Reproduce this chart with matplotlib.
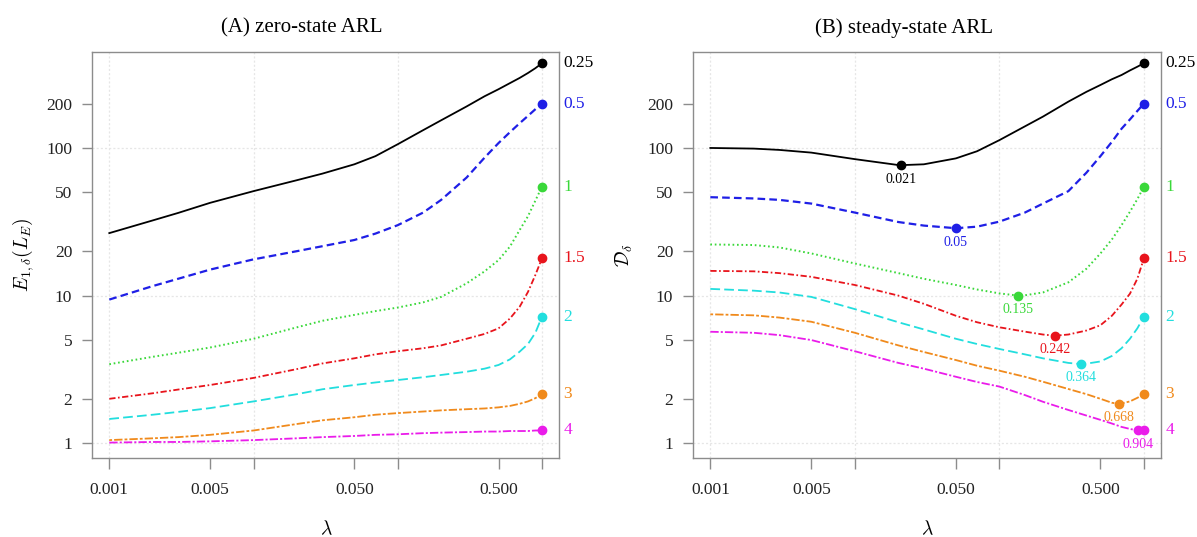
import numpy as np
import matplotlib
matplotlib.use("Agg")
import matplotlib.pyplot as plt

plt.rcParams['font.family'] = ['Liberation Serif', 'DejaVu Serif']
plt.rcParams['mathtext.fontset'] = 'cm'
plt.rcParams['lines.scale_dashes'] = False

# ---------------- data ----------------
lam = [0.001, 0.002, 0.003, 0.005, 0.01, 0.02, 0.03, 0.05, 0.07, 0.1,
       0.15, 0.2, 0.3, 0.4, 0.5, 0.6, 0.7, 0.8, 0.9, 1.0]
deltas = ["0.25", "0.5", "1", "1.5", "2", "3", "4"]

# (A) zero-state ARL
zero_025 = [26.5, 32.3, 36.3, 42.5, 51, 60.5, 67, 77.5, 88, 106,
            132, 154, 191, 224, 250, 275, 298, 322, 347, 375]
zero_05 = [9.4, 11.6, 13.0, 15.0, 17.6, 20.0, 21.6, 23.8, 26.3, 30,
           36.5, 44.5, 63, 86, 108, 128, 147, 165, 183, 200]
zero_1 = [3.43, 3.85, 4.1, 4.45, 5.1, 6.1, 6.75, 7.4, 7.85, 8.3,
          9.0, 9.8, 12.1, 14.6, 17.4, 21.5, 27.8, 34.5, 44, 54.7]
zero_15 = [2.0, 2.18, 2.31, 2.48, 2.77, 3.18, 3.47, 3.76, 4.0, 4.2,
           4.4, 4.6, 5.1, 5.5, 6.0, 7.0, 8.4, 10.6, 13.8, 17.9]
zero_2 = [1.46, 1.56, 1.63, 1.73, 1.92, 2.15, 2.32, 2.48, 2.58, 2.68,
          2.8, 2.9, 3.05, 3.2, 3.39, 3.7, 4.17, 4.7, 5.6, 7.2]
zero_3 = [1.05, 1.08, 1.1, 1.14, 1.22, 1.35, 1.43, 1.5, 1.56, 1.6,
          1.64, 1.67, 1.7, 1.72, 1.75, 1.79, 1.85, 1.92, 2.02, 2.15]
zero_4 = [1.01, 1.02, 1.02, 1.03, 1.05, 1.08, 1.1, 1.12, 1.14, 1.15,
          1.17, 1.18, 1.19, 1.2, 1.2, 1.21, 1.21, 1.21, 1.22, 1.22]

# (B) steady-state ARL
steady_025 = [100, 99, 97, 93, 84, 76.6, 77.5, 85, 95, 113,
              140, 163, 206, 240, 267, 292, 312, 335, 355, 375]
steady_05 = [46.4, 45.5, 44.5, 42, 36.5, 31.5, 29.8, 28.6, 29.3, 31.7,
             36.5, 42, 51, 68, 88, 110, 135, 156, 178, 200]
steady_1 = [22.2, 22, 21.2, 19.3, 16.5, 14.2, 13.0, 11.8, 11.0, 10.35,
            10.05, 10.5, 12.3, 15.2, 19.3, 24, 30, 37, 45, 54.7]
steady_15 = [14.7, 14.6, 14.2, 13.4, 11.8, 10.0, 8.8, 7.3, 6.6, 6.1,
             5.7, 5.45, 5.45, 5.8, 6.3, 7.3, 8.7, 10.3, 13.0, 17.9]
steady_2 = [11.1, 10.8, 10.5, 9.8, 8.1, 6.6, 5.9, 5.1, 4.7, 4.35,
            4.0, 3.76, 3.5, 3.46, 3.58, 3.9, 4.4, 5.1, 6.0, 7.2]
steady_3 = [7.47, 7.35, 7.1, 6.65, 5.6, 4.6, 4.15, 3.66, 3.35, 3.1,
            2.82, 2.61, 2.33, 2.15, 2.0, 1.88, 1.86, 1.92, 2.03, 2.15]
steady_4 = [5.69, 5.6, 5.4, 5.0, 4.2, 3.5, 3.2, 2.82, 2.6, 2.42,
            2.12, 1.91, 1.68, 1.54, 1.44, 1.36, 1.29, 1.25, 1.221, 1.22]

min_lam = [0.021, 0.05, 0.135, 0.242, 0.364, 0.668, 0.904]
min_val = [76.5, 28.6, 10.0, 5.35, 3.44, 1.85, 1.22]
min_text = ["0.021", "0.05", "0.135", "0.242", "0.364", "0.668", "0.904"]

xticks = [0.001, 0.005, 0.01, 0.05, 0.1, 0.5, 1.0]
xticklabels = ["0.001", "0.005", "", "0.050", "", "0.500", ""]
yticks = [1, 2, 5, 10, 20, 50, 100, 200]
yticklabels = ["1", "2", "5", "10", "20", "50", "100", "200"]

zero = [zero_025, zero_05, zero_1, zero_15, zero_2, zero_3, zero_4]
steady = [steady_025, steady_05, steady_1, steady_15, steady_2, steady_3, steady_4]

colors = ["black", "#1f1fe6", "#3ad83a", "#e8141c", "#22dede", "#f08a1c", "#ea1cea"]
dashes = [None, (5.5, 3), (1.2, 2.0), (4.5, 1.8, 1.2, 1.8), (7, 3),
          (2, 1.5, 6, 1.5), (6, 1.5, 1.5, 1.5)]
lws = [1.3, 1.6, 1.4, 1.3, 1.3, 1.3, 1.3]

W, H = 1197, 537
fig = plt.figure(figsize=(W / 100, H / 100), dpi=100)

def px(x0, y0, x1, y1):
    return [x0 / W, 1 - y1 / H, (x1 - x0) / W, (y1 - y0) / H]

axA = fig.add_axes(px(91.7, 51.7, 559, 458.3))
axB = fig.add_axes(px(692.7, 51.7, 1161, 458.3))

gray = "#8c8c8c"
for ax in (axA, axB):
    ax.set_xscale("log")
    ax.set_yscale("log")
    ax.set_xlim(10 ** -3.122, 10 ** 0.118)
    ax.set_ylim(10 ** -0.102, 10 ** 2.652)
    for g in [0.001, 0.01, 0.1, 1.0]:
        ax.axvline(g, color="#e6e6e6", lw=0.9, ls=(0, (1.5, 1.5)), zorder=0)
    for g in [1, 10, 100]:
        ax.axhline(g, color="#e6e6e6", lw=0.9, ls=(0, (1.5, 1.5)), zorder=0)
    ax.set_xticks(xticks)
    ax.set_xticklabels(xticklabels)
    ax.set_yticks(yticks)
    ax.set_yticklabels(yticklabels)
    ax.minorticks_off()
    for s in ax.spines.values():
        s.set_color(gray)
        s.set_linewidth(1.0)
    ax.tick_params(axis="x", direction="out", length=8, width=1, color=gray,
                   pad=9, labelsize=12.5, labelcolor="#222222")
    ax.tick_params(axis="y", direction="out", length=7, width=1, color=gray,
                   pad=7, labelsize=12.5, labelcolor="#222222")

def draw(ax, series, with_min):
    for i, vals in enumerate(series):
        x = np.array(lam, dtype=float)
        y = np.array(vals, dtype=float)
        if with_min:
            x = np.append(x, min_lam[i])
            y = np.append(y, min_val[i])
            o = np.argsort(x)
            x, y = x[o], y[o]
        line, = ax.plot(x, y, color=colors[i], lw=lws[i], zorder=3)
        if dashes[i] is not None:
            line.set_dashes(dashes[i])
        ax.plot([lam[-1]], [vals[-1]], "o", color=colors[i], ms=6, zorder=4)
        ax.annotate(deltas[i], (1.0, vals[-1]), xycoords=("axes fraction", "data"),
                    xytext=(3, 0), textcoords="offset points", va="center",
                    ha="left", color=colors[i], fontsize=12.5,
                    annotation_clip=False)
        if with_min:
            ax.plot([min_lam[i]], [min_val[i]], "o", color=colors[i], ms=6, zorder=4)
            ax.annotate(min_text[i], (min_lam[i], min_val[i]), xytext=(0, -10),
                        textcoords="offset points", ha="center", va="center",
                        color=colors[i], fontsize=10)

draw(axA, zero, False)
draw(axB, steady, True)

fig.text(302 / W, 1 - 28 / H, "(A) zero-state ARL", ha="center", va="center", fontsize=15)
fig.text(904 / W, 1 - 28 / H, "(B) steady-state ARL", ha="center", va="center", fontsize=15)
fig.text(23 / W, 1 - 255 / H, r"$E_{1,\delta}(L_E)$", rotation=90, ha="center",
         va="center", fontsize=14)
fig.text(624 / W, 1 - 255 / H, r"$\mathcal{D}_\delta$", rotation=90, ha="center",
         va="center", fontsize=14)
fig.text(326 / W, 1 - 529 / H, r"$\lambda$", ha="center", va="center", fontsize=14)
fig.text(927 / W, 1 - 529 / H, r"$\lambda$", ha="center", va="center", fontsize=14)

fig.savefig("out.png", dpi=100)
